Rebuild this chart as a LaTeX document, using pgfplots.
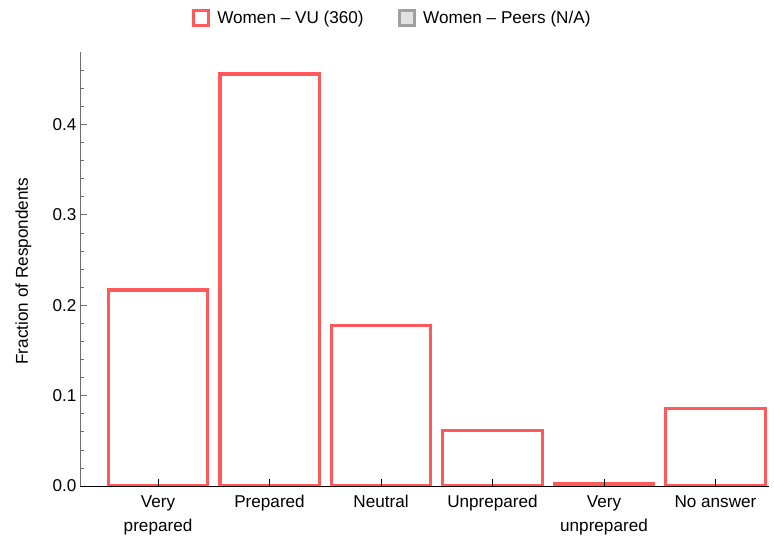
\documentclass[border=0pt]{standalone}
\usepackage{fontspec}
\setmainfont{Liberation Sans}
\usepackage{pgfplots}
\pgfplotsset{compat=1.18}

\definecolor{vured}{RGB}{255,90,90}
\definecolor{peeredge}{RGB}{160,160,160}
\definecolor{peerfill}{RGB}{226,226,226}
\definecolor{spinegray}{RGB}{110,110,110}

\begin{document}
\begin{tikzpicture}
% fix the canvas to the reference size (1bp = 1px)
\path[use as bounding box] (-80bp,-58bp) rectangle (694bp,486bp);

\begin{axis}[
scale only axis,
width=689bp,
height=434bp,
font=\fontsize{17.2}{24}\selectfont,
/pgf/number format/assume math mode=true,
axis x line=bottom,
axis y line=left,
axis line style={-},
x axis line style={black, line width=0.8bp},
y axis line style={spinegray, line width=0.8bp},
axis on top,
xmin=-0.7, xmax=5.48,
ymin=0, ymax=0.48,
xtick={0,...,5},
xticklabels={{Very\\prepared},Prepared,Neutral,Unprepared,{Very\\unprepared},No answer},
xticklabel style={align=center, anchor=north, yshift=-6bp},
x tick style={black, line width=0.6bp},
major tick length=7bp,
minor tick length=4bp,
tick align=inside,
ytick={0,0.1,0.2,0.3,0.4},
minor ytick={0.02,0.04,0.06,0.08,0.12,0.14,0.16,0.18,0.22,0.24,0.26,0.28,0.32,0.34,0.36,0.38,0.42,0.44,0.46},
y tick style={spinegray, line width=0.6bp},
yticklabel style={/pgf/number format/fixed, /pgf/number format/fixed zerofill, /pgf/number format/precision=1},
ylabel={Fraction of Respondents},
ylabel style={at={(axis description cs:-0.082,0.495)}, anchor=center},
legend columns=2,
legend style={draw=none, fill=none, at={(axis description cs:0.453,1.078)}, anchor=center,
  /tikz/every even column/.append style={column sep=32bp}},
legend cell align=left,
]

\addplot[ybar, bar width=0.89, draw=vured, fill=white, line width=3.2bp,
  legend image code/.code={\draw[draw=vured, fill=white, line width=3.2bp] (0bp,-7.5bp) rectangle (15bp,7.5bp); \path[draw=none, fill=none] (0bp,0bp) -- (22bp,0bp);}]
coordinates {(0,0.2167) (1,0.4556) (2,0.1778) (3,0.0611) (4,0.0028) (5,0.0861)};
\addlegendentry{Women – VU (360)}

\addlegendimage{legend image code/.code={\filldraw[draw=peeredge, fill=peerfill, line width=3.2bp] (0bp,-7.5bp) rectangle (15bp,7.5bp); \path[draw=none, fill=none] (0bp,0bp) -- (22bp,0bp);}}
\addlegendentry{Women – Peers (N/A)}
\end{axis}
\end{tikzpicture}
\end{document}
